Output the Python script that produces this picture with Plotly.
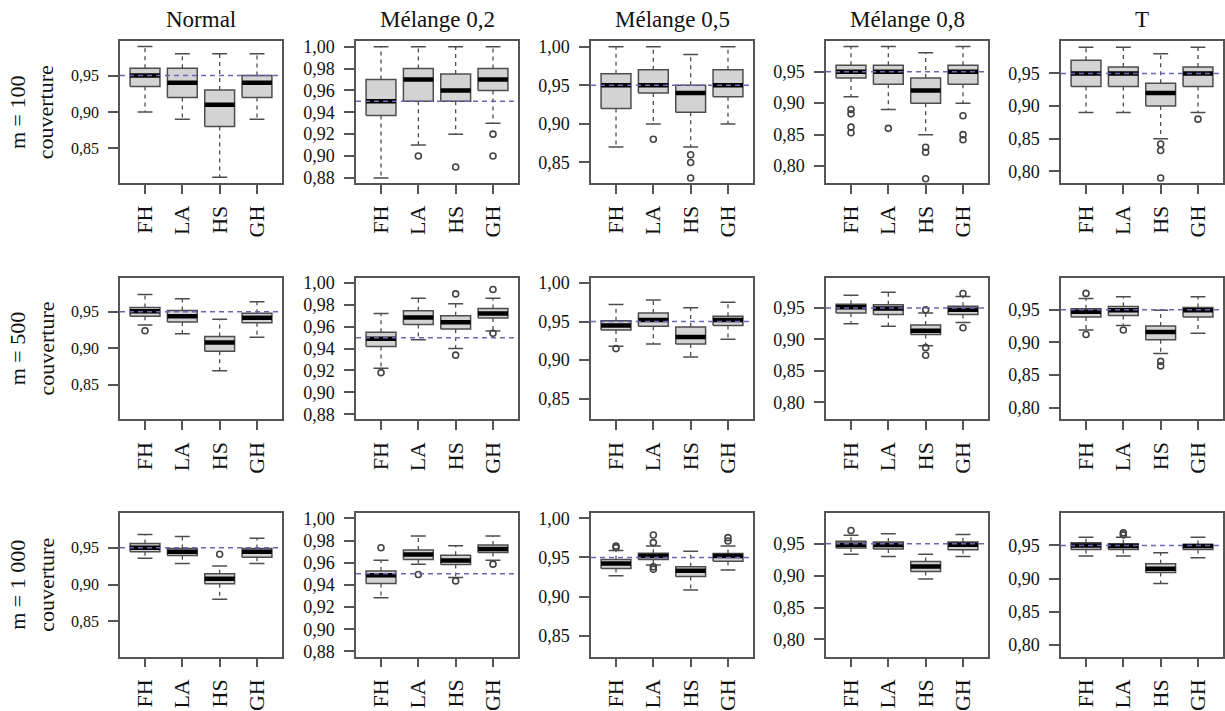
import plotly.graph_objects as go

# ---------------- data ----------------
METHODS = ["FH", "LA", "HS", "GH"]
DISTRIBUTIONS = ["Normal", "Mélange 0,2", "Mélange 0,5", "Mélange 0,8", "T"]
SIZES = ["m = 100", "m = 500", "m = 1 000"]
TARGET = 0.95

# each stat: [row][distribution][method]
LOWER = [
    [[0.90, 0.89, 0.81, 0.89], [0.88, 0.91, 0.92, 0.93], [0.87, 0.90, 0.87, 0.90],
     [0.91, 0.89, 0.85, 0.90], [0.89, 0.89, 0.85, 0.89]],
    [[0.932, 0.920, 0.869, 0.915], [0.922, 0.948, 0.940, 0.956], [0.918, 0.921, 0.904, 0.927],
     [0.925, 0.921, 0.890, 0.927], [0.919, 0.926, 0.883, 0.914]],
    [[0.9355, 0.9286, 0.880, 0.9286], [0.9283, 0.9587, 0.9466, 0.9623], [0.9265, 0.9405, 0.9086, 0.934],
     [0.9336, 0.9299, 0.8947, 0.9299], [0.934, 0.934, 0.8925, 0.9315]],
]
Q1 = [
    [[0.935, 0.92, 0.88, 0.92], [0.937, 0.95, 0.95, 0.96], [0.92, 0.94, 0.915, 0.935],
     [0.94, 0.93, 0.90, 0.93], [0.93, 0.93, 0.90, 0.93]],
    [[0.944, 0.936, 0.896, 0.935], [0.942, 0.962, 0.958, 0.968], [0.939, 0.944, 0.921, 0.945],
     [0.942, 0.9395, 0.908, 0.9395], [0.939, 0.941, 0.904, 0.939]],
    [[0.9445, 0.9395, 0.901, 0.937], [0.9412, 0.9629, 0.9584, 0.9692], [0.936, 0.9475, 0.9256, 0.9453],
     [0.9431, 0.9415, 0.9064, 0.9405], [0.944, 0.944, 0.909, 0.944]],
]
MEDIAN = [
    [[0.95, 0.94, 0.91, 0.94], [0.95, 0.97, 0.96, 0.97], [0.95, 0.95, 0.94, 0.95],
     [0.95, 0.95, 0.92, 0.95], [0.95, 0.95, 0.92, 0.95]],
    [[0.951, 0.944, 0.908, 0.942], [0.949, 0.9685, 0.964, 0.972], [0.945, 0.952, 0.930, 0.952],
     [0.951, 0.949, 0.914, 0.947], [0.947, 0.949, 0.916, 0.949]],
    [[0.95, 0.9445, 0.9077, 0.9445], [0.9487, 0.9674, 0.962, 0.9723], [0.9424, 0.952, 0.933, 0.952],
     [0.9484, 0.948, 0.9143, 0.9484], [0.95, 0.949, 0.915, 0.949]],
]
Q3 = [
    [[0.96, 0.96, 0.93, 0.95], [0.97, 0.98, 0.975, 0.98], [0.965, 0.97, 0.95, 0.97],
     [0.96, 0.96, 0.94, 0.96], [0.97, 0.96, 0.935, 0.96]],
    [[0.956, 0.952, 0.916, 0.948], [0.955, 0.9745, 0.970, 0.9766], [0.951, 0.961, 0.943, 0.957],
     [0.956, 0.955, 0.923, 0.9526], [0.9515, 0.955, 0.925, 0.9535]],
    [[0.9555, 0.949, 0.9145, 0.949], [0.9524, 0.9714, 0.9668, 0.9759], [0.9475, 0.9553, 0.938, 0.955],
     [0.9537, 0.9526, 0.9222, 0.9526], [0.954, 0.9525, 0.9225, 0.9515]],
]
UPPER = [
    [[0.99, 0.98, 0.98, 0.98], [1.00, 1.00, 1.00, 1.00], [1.00, 1.00, 0.99, 1.00],
     [0.99, 0.99, 0.98, 0.99], [0.99, 0.99, 0.98, 0.99]],
    [[0.974, 0.968, 0.940, 0.964], [0.972, 0.986, 0.981, 0.986], [0.972, 0.978, 0.968, 0.975],
     [0.970, 0.975, 0.942, 0.968], [0.967, 0.970, 0.949, 0.970]],
    [[0.968, 0.965, 0.925, 0.9627], [0.9623, 0.984, 0.9753, 0.984], [0.9588, 0.9647, 0.958, 0.9647],
     [0.9632, 0.9654, 0.9336, 0.9643], [0.9625, 0.9625, 0.939, 0.9625]],
]
OUTLIERS = [
    [[[], [], [], []],
     [[], [0.90], [0.89], [0.92, 0.90]],
     [[], [0.88], [0.86, 0.85, 0.83], []],
     [[0.89, 0.883, 0.862, 0.853], [0.86], [0.83, 0.822, 0.78], [0.88, 0.85, 0.842]],
     [[], [], [0.842, 0.832, 0.79], [0.88]]],
    [[[0.924], [], [], []],
     [[0.918], [], [0.990, 0.934], [0.994, 0.954]],
     [[0.915], [], [], []],
     [[], [], [0.947, 0.887, 0.875], [0.973, 0.9185]],
     [[0.975, 0.912], [0.919], [0.871, 0.864], []]],
    [[[], [], [0.941], []],
     [[0.9735], [0.9494], [0.9436], [0.9587]],
     [[0.9647, 0.9626], [0.9787, 0.969, 0.938, 0.935], [], [0.9753, 0.971]],
     [[0.9707], [], [], []],
     [[], [0.969, 0.966], [], []]],
]

Y_RANGES = [[0.802, 0.997], [0.8752, 1.0048], [0.8232, 1.0068], [0.773, 0.998], [0.782, 0.999]]
Y_TICKS = [[0.85, 0.90, 0.95], [0.88, 0.90, 0.92, 0.94, 0.96, 0.98, 1.00],
           [0.85, 0.90, 0.95, 1.00], [0.80, 0.85, 0.90, 0.95], [0.80, 0.85, 0.90, 0.95]]

# ---------------- layout geometry (pixels) ----------------
W, H = 1225, 711
COL_X0 = [120, 356, 591, 826, 1061]
COL_W = 162
ROW_Y0 = [38, 278, 517]
ROW_H = [144, 144, 146]
HALF = 0.4      # half box width
CAP = 0.2       # half cap width

FONT = "Liberation Serif, Times New Roman, Times, serif"
BOX_LINE = "#4d4d4d"
BOX_FILL = "#d3d3d3"
FRAME = "#555555"
REF = "#6868b8"

fig = go.Figure()
xpos = list(range(1, len(METHODS) + 1))

for r in range(len(SIZES)):
    for c in range(len(DISTRIBUTIONS)):
        k = r * len(DISTRIBUTIONS) + c + 1
        sfx = "" if k == 1 else str(k)
        xa, ya = f"x{sfx}", f"y{sfx}"
        lo, q1, md, q3, hi = LOWER[r][c], Q1[r][c], MEDIAN[r][c], Q3[r][c], UPPER[r][c]

        bx, by, mx, my, wx, wy, cx, cy, ox, oy = [], [], [], [], [], [], [], [], [], []
        for i, x in enumerate(xpos):
            bx += [x - HALF, x + HALF, x + HALF, x - HALF, x - HALF, None]
            by += [q1[i], q1[i], q3[i], q3[i], q1[i], None]
            mx += [x - HALF, x + HALF, None]
            my += [md[i], md[i], None]
            wx += [x, x, None, x, x, None]
            wy += [q3[i], hi[i], None, q1[i], lo[i], None]
            cx += [x - CAP, x + CAP, None, x - CAP, x + CAP, None]
            cy += [hi[i], hi[i], None, lo[i], lo[i], None]
            for v in OUTLIERS[r][c][i]:
                ox.append(x)
                oy.append(v)

        common = dict(xaxis=xa, yaxis=ya, showlegend=False, hoverinfo="skip")
        fig.add_trace(go.Scatter(x=wx, y=wy, mode="lines",
                                 line=dict(color=BOX_LINE, width=1.3, dash="4px,4px"), **common))
        fig.add_trace(go.Scatter(x=cx, y=cy, mode="lines",
                                 line=dict(color=BOX_LINE, width=1.5), **common))
        fig.add_trace(go.Scatter(x=bx, y=by, mode="lines", fill="toself", fillcolor=BOX_FILL,
                                 line=dict(color=BOX_LINE, width=1.5), **common))
        fig.add_trace(go.Scatter(x=mx, y=my, mode="lines",
                                 line=dict(color="black", width=4.5), **common))
        if ox:
            fig.add_trace(go.Scatter(x=ox, y=oy, mode="markers",
                                     marker=dict(symbol="circle-open", size=6, color="#444444",
                                                 line=dict(width=1.6)), **common))

        # reference line
        fig.add_shape(type="line", xref=f"{xa} domain", yref=ya, x0=0, x1=1,
                      y0=TARGET, y1=TARGET, line=dict(color=REF, width=1.5, dash="5px,4px"),
                      layer="above")

        x0 = COL_X0[c]
        x1 = COL_X0[c] + COL_W
        top, h = ROW_Y0[r], ROW_H[r]
        ysize = 16 if c == 0 else 18
        fig.layout[f"xaxis{sfx}"] = dict(
            domain=[x0 / W, x1 / W], anchor=ya, range=[0.33, 4.67],
            tickvals=xpos, ticktext=METHODS, tickangle=-90,
            tickfont=dict(family=FONT, size=22, color="#111"),
            showline=True, mirror=True, linecolor=FRAME, linewidth=1.5,
            ticks="outside", ticklen=9, tickcolor=FRAME, tickwidth=1.5,
            ticklabelstandoff=3,
            showgrid=False, zeroline=False, fixedrange=True)
        fig.layout[f"yaxis{sfx}"] = dict(
            domain=[1 - (top + h) / H, 1 - top / H], anchor=xa, range=Y_RANGES[c],
            tickvals=Y_TICKS[c], tickformat=".2f",
            tickfont=dict(family=FONT, size=ysize, color="#111"),
            showline=True, mirror=True, linecolor=FRAME, linewidth=1.5,
            ticks="outside", ticklen=10, tickcolor=FRAME, tickwidth=1.5,
            ticklabelstandoff=6,
            showgrid=False, zeroline=False, fixedrange=True)

annotations = []
for c, name in enumerate(DISTRIBUTIONS):
    annotations.append(dict(text=name, x=(COL_X0[c] + COL_W / 2) / W, y=1 - 16 / H,
                            xref="paper", yref="paper", showarrow=False,
                            font=dict(family=FONT, size=23, color="#111"),
                            xanchor="center", yanchor="middle"))
for r, s in enumerate(SIZES):
    annotations.append(dict(text=f"{s}<br>couverture", x=32 / W,
                            y=1 - (ROW_Y0[r] + ROW_H[r] / 2) / H,
                            xref="paper", yref="paper", showarrow=False, textangle=-90,
                            font=dict(family=FONT, size=22, color="#111"),
                            xanchor="center", yanchor="middle"))

fig.update_layout(width=W, height=H, margin=dict(l=0, r=0, t=0, b=0),
                  paper_bgcolor="white", plot_bgcolor="white", separators=", ",
                  annotations=annotations)

fig.write_html("out.html")
